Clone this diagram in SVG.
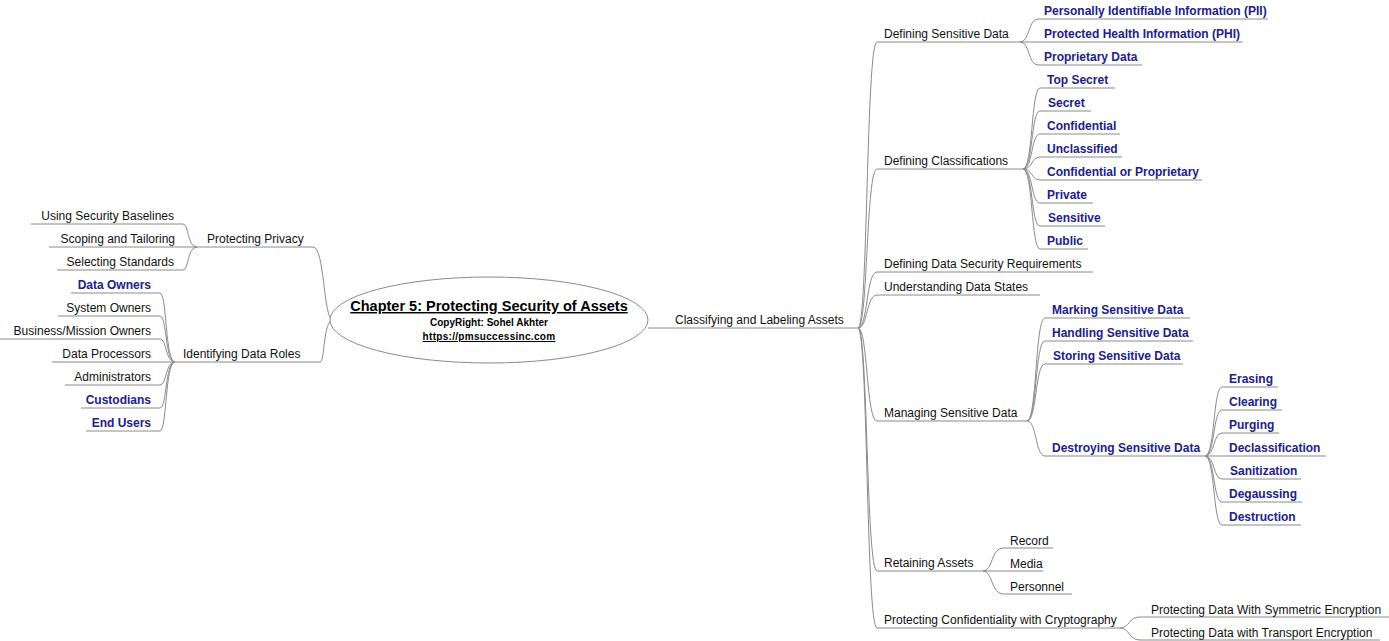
<svg xmlns="http://www.w3.org/2000/svg" width="1389" height="641" viewBox="0 0 1389 641">
<style>
text{font-family:"Liberation Sans",Arial,sans-serif;font-size:12px;fill:#111}
.b{font-weight:bold;fill:#20208c}
.e{text-anchor:end}
.ln{stroke:#8a8a8a;stroke-width:1;fill:none}
.rt{font-weight:bold;text-anchor:middle;fill:#000}
</style>
<rect width="1389" height="641" fill="#fff"/>
<g id="connectors" class="ln">
<path d="M648,328H858"/>
<path d="M858,328C868,328 866,42 877,42"/>
<path d="M858,328C868,328 866,169 877,169"/>
<path d="M858,328C868,328 866,272 877,272"/>
<path d="M858,328C868,328 866,295 877,295"/>
<path d="M858,328C868,328 866,421 877,421"/>
<path d="M858,328C868,328 866,571 877,571"/>
<path d="M858,328C868,328 866,628 877,628"/>
<path d="M1020,42C1030,42 1028,19 1038,19"/>
<path d="M1020,42H1038"/>
<path d="M1020,42C1030,42 1028,65 1038,65"/>
<path d="M1023,169C1033,169 1031,88 1040,88"/>
<path d="M1023,169C1033,169 1031,111 1040,111"/>
<path d="M1023,169C1033,169 1031,134 1040,134"/>
<path d="M1023,169C1033,169 1031,157 1040,157"/>
<path d="M1023,169C1033,169 1031,180 1040,180"/>
<path d="M1023,169C1033,169 1031,203 1040,203"/>
<path d="M1023,169C1033,169 1031,226 1040,226"/>
<path d="M1023,169C1033,169 1031,249 1040,249"/>
<path d="M1027,421C1037,421 1035,318 1045,318"/>
<path d="M1027,421C1037,421 1035,341 1045,341"/>
<path d="M1027,421C1037,421 1035,364 1045,364"/>
<path d="M1027,421C1037,421 1035,456 1045,456"/>
<path d="M1205,456C1215,456 1213,387 1222,387"/>
<path d="M1205,456C1215,456 1213,410 1222,410"/>
<path d="M1205,456C1215,456 1213,433 1222,433"/>
<path d="M1205,456H1222"/>
<path d="M1205,456C1215,456 1213,479 1222,479"/>
<path d="M1205,456C1215,456 1213,502 1222,502"/>
<path d="M1205,456C1215,456 1213,525 1222,525"/>
<path d="M983,571C993,571 991,548 1003,548"/>
<path d="M983,571H1003"/>
<path d="M983,571C993,571 991,594 1003,594"/>
<path d="M1120,628C1130,628 1128,617 1140,617"/>
<path d="M1120,628C1130,628 1128,640 1140,640"/>
<path d="M333,320C323,320 325,247 313,247"/>
<path d="M333,320C323,320 325,362 320,362"/>
<path d="M197,247C187,247 189,224 183,224"/>
<path d="M197,247H183"/>
<path d="M197,247C187,247 189,270 183,270"/>
<path d="M175,362C165,362 167,293 160,293"/>
<path d="M175,362C165,362 167,316 160,316"/>
<path d="M175,362C165,362 167,339 160,339"/>
<path d="M175,362H160"/>
<path d="M175,362C165,362 167,385 160,385"/>
<path d="M175,362C165,362 167,408 160,408"/>
<path d="M175,362C165,362 167,431 160,431"/>
</g>
<g id="root">
<ellipse cx="489" cy="320" rx="159" ry="43" fill="#fff" stroke="#8a8a8a"/>
<text class="rt" x="489" y="311" style="font-size:14.5px" text-decoration="underline">Chapter 5: Protecting Security of Assets</text>
<text class="rt" x="489" y="326" style="font-size:10px">CopyRight:  Sohel Akhter</text>
<text class="rt" x="489" y="340" style="font-size:10px;letter-spacing:0.3px" text-decoration="underline">https://pmsuccessinc.com</text>
</g>
<g id="classifying"><text x="675" y="324">Classifying and Labeling Assets</text></g>
<g id="defining-sensitive"><path class="ln" d="M877,42H1020"/><text x="884" y="38">Defining Sensitive Data</text></g>
<g id="pii"><path class="ln" d="M1038,19H1268"/><text class="b" x="1044" y="15">Personally Identifiable Information (PII)</text></g>
<g id="phi"><path class="ln" d="M1038,42H1243"/><text class="b" x="1044" y="38">Protected Health Information (PHI)</text></g>
<g id="proprietary"><path class="ln" d="M1038,65H1142"/><text class="b" x="1044" y="61">Proprietary Data</text></g>
<g id="defining-class"><path class="ln" d="M877,169H1023"/><text x="884" y="165">Defining Classifications</text></g>
<g id="top-secret"><path class="ln" d="M1040,88H1115"/><text class="b" x="1047" y="84">Top Secret</text></g>
<g id="secret"><path class="ln" d="M1040,111H1091"/><text class="b" x="1048" y="107">Secret</text></g>
<g id="confidential"><path class="ln" d="M1040,134H1120"/><text class="b" x="1047" y="130">Confidential</text></g>
<g id="unclassified"><path class="ln" d="M1040,157H1122"/><text class="b" x="1047" y="153">Unclassified</text></g>
<g id="conf-prop"><path class="ln" d="M1040,180H1202"/><text class="b" x="1047" y="176">Confidential or Proprietary</text></g>
<g id="private"><path class="ln" d="M1040,203H1093"/><text class="b" x="1047" y="199">Private</text></g>
<g id="sensitive"><path class="ln" d="M1040,226H1105"/><text class="b" x="1048" y="222">Sensitive</text></g>
<g id="public"><path class="ln" d="M1040,249H1088"/><text class="b" x="1047" y="245">Public</text></g>
<g id="dsr"><path class="ln" d="M877,272H1093"/><text x="884" y="268">Defining Data Security Requirements</text></g>
<g id="states"><path class="ln" d="M877,295H1040"/><text x="884" y="291">Understanding Data States</text></g>
<g id="managing"><path class="ln" d="M877,421H1027"/><text x="884" y="417">Managing Sensitive Data</text></g>
<g id="marking"><path class="ln" d="M1045,318H1190"/><text class="b" x="1052" y="314">Marking Sensitive Data</text></g>
<g id="handling"><path class="ln" d="M1045,341H1193"/><text class="b" x="1052" y="337">Handling Sensitive Data</text></g>
<g id="storing"><path class="ln" d="M1045,364H1183"/><text class="b" x="1053" y="360">Storing Sensitive Data</text></g>
<g id="destroying"><path class="ln" d="M1045,456H1205"/><text class="b" x="1052" y="452">Destroying Sensitive Data</text></g>
<g id="erasing"><path class="ln" d="M1222,387H1278"/><text class="b" x="1229" y="383">Erasing</text></g>
<g id="clearing"><path class="ln" d="M1222,410H1282"/><text class="b" x="1229" y="406">Clearing</text></g>
<g id="purging"><path class="ln" d="M1222,433H1279"/><text class="b" x="1229" y="429">Purging</text></g>
<g id="declass"><path class="ln" d="M1222,456H1326"/><text class="b" x="1229" y="452">Declassification</text></g>
<g id="sanitization"><path class="ln" d="M1222,479H1301"/><text class="b" x="1230" y="475">Sanitization</text></g>
<g id="degaussing"><path class="ln" d="M1222,502H1302"/><text class="b" x="1229" y="498">Degaussing</text></g>
<g id="destruction"><path class="ln" d="M1222,525H1301"/><text class="b" x="1229" y="521">Destruction</text></g>
<g id="retaining"><path class="ln" d="M877,571H983"/><text x="884" y="567">Retaining Assets</text></g>
<g id="record"><path class="ln" d="M1003,548H1053"/><text x="1010" y="545">Record</text></g>
<g id="media"><path class="ln" d="M1003,571H1043"/><text x="1010" y="568">Media</text></g>
<g id="personnel"><path class="ln" d="M1003,594H1072"/><text x="1010" y="591">Personnel</text></g>
<g id="crypto"><path class="ln" d="M877,628H1120"/><text x="884" y="624">Protecting Confidentiality with Cryptography</text></g>
<g id="symmetric"><path class="ln" d="M1140,617H1389"/><text x="1151" y="614">Protecting Data With Symmetric Encryption</text></g>
<g id="transport"><path class="ln" d="M1140,640H1380"/><text x="1151" y="637">Protecting Data with Transport Encryption</text></g>
<g id="privacy"><path class="ln" d="M197,247H313"/><text x="207" y="243">Protecting Privacy</text></g>
<g id="baselines"><path class="ln" d="M31,224H183"/><text class="e" x="174" y="220">Using Security Baselines</text></g>
<g id="scoping"><path class="ln" d="M49,247H183"/><text class="e" x="175" y="243">Scoping and Tailoring</text></g>
<g id="standards"><path class="ln" d="M57,270H183"/><text class="e" x="174" y="266">Selecting Standards</text></g>
<g id="roles"><path class="ln" d="M175,362H320"/><text x="183" y="358">Identifying Data Roles</text></g>
<g id="data-owners"><path class="ln" d="M71,293H160"/><text class="b e" x="151" y="289">Data Owners</text></g>
<g id="system-owners"><path class="ln" d="M58,316H160"/><text class="e" x="151" y="312">System Owners</text></g>
<g id="business-owners"><path class="ln" d="M0,339H160"/><text class="e" x="151" y="335">Business/Mission Owners</text></g>
<g id="processors"><path class="ln" d="M52,362H160"/><text class="e" x="151" y="358">Data Processors</text></g>
<g id="administrators"><path class="ln" d="M65,385H160"/><text class="e" x="151" y="381">Administrators</text></g>
<g id="custodians"><path class="ln" d="M81,408H160"/><text class="b e" x="151" y="404">Custodians</text></g>
<g id="end-users"><path class="ln" d="M86,431H160"/><text class="b e" x="151" y="427">End Users</text></g>
</svg>
